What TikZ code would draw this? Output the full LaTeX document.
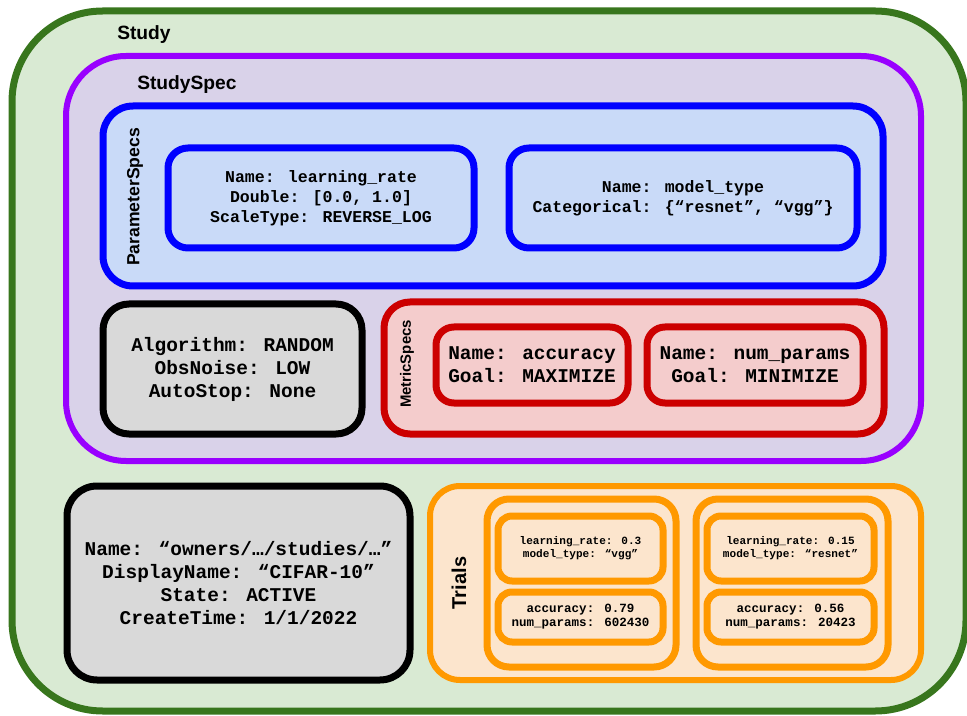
\documentclass[tikz,border=0pt]{standalone}
\usepackage{fontspec}
\setmainfont{Liberation Sans}
\newfontfamily\codefont{Liberation Mono}
\usetikzlibrary{positioning}

\definecolor{studyline}{HTML}{38761D}
\definecolor{studyfill}{HTML}{D9EAD3}
\definecolor{specline}{HTML}{9900FF}
\definecolor{specfill}{HTML}{D9D2E9}
\definecolor{paramline}{HTML}{0000FF}
\definecolor{paramfill}{HTML}{C9DAF8}
\definecolor{greyfill}{HTML}{D9D9D9}
\definecolor{metricline}{HTML}{CC0000}
\definecolor{metricfill}{HTML}{F4CCCC}
\definecolor{trialline}{HTML}{FF9900}
\definecolor{trialfill}{HTML}{FCE5CD}

\begin{document}
\begin{tikzpicture}[x=0.75pt, y=-0.75pt,
  box/.style={rectangle, draw, line width=5.25pt, inner sep=0pt, align=center},
  sz/.style 2 args={minimum width=#1*0.75pt, minimum height=#2*0.75pt},
  title/.style={font=\bfseries\fontsize{14.4}{17}\selectfont, inner sep=0pt},
  sidetitle/.style={font=\bfseries\fontsize{#1}{#1}\selectfont, rotate=90, inner sep=0pt},
  bigtext/.style={font=\codefont\bfseries\fontsize{14.6}{17.25}\selectfont},
  midtext/.style={font=\codefont\bfseries\fontsize{12.4}{15}\selectfont}
]
  \useasboundingbox (0,0) rectangle (967,716);

  % outer containers
  \node[box, sz={954}{700}, draw=studyline, fill=studyfill, rounded corners=68pt] (study) at (489,361) {};
  \node[title, anchor=west] (studylabel) at (117,35) {Study};
  \node[box, sz={855}{405}, line width=4.5pt, draw=specline, fill=specfill, rounded corners=45pt] (studyspec) at (493.5,258.5) {};
  \node[title, anchor=west] (speclabel) at (137,85) {StudySpec};

  % parameter specs
  \node[box, sz={780}{180}, draw=paramline, fill=paramfill, rounded corners=22.5pt] (params) at (493,196) {};
  \node[sidetitle=13.2] (paramlabel) at (135,197) {ParameterSpecs};
  \node[box, midtext, sz={306}{100}, draw=paramline, fill=paramfill, rounded corners=15pt] (lr) at (321,198)
    {Name: learning\_rate\\Double: [0.0, 1.0]\\ScaleType: REVERSE\_LOG};
  \node[box, midtext, sz={348}{100}, draw=paramline, fill=paramfill, rounded corners=15pt] (mt) at (683,198)
    {Name: model\_type\\Categorical: \{“resnet”, “vgg”\}};

  % algorithm settings
  \node[box, bigtext, sz={259}{130}, fill=greyfill, rounded corners=19.5pt] (algo) at (232.5,369)
    {Algorithm: RANDOM\\ObsNoise: LOW\\AutoStop: None};

  % metric specs
  \node[box, sz={500}{132}, draw=metricline, fill=metricfill, rounded corners=19.5pt] (metrics) at (634,368) {};
  \node[sidetitle=11.2] (metriclabel) at (407,364) {MetricSpecs};
  \node[box, bigtext, sz={192}{76}, draw=metricline, fill=metricfill, rounded corners=13.5pt] (acc) at (532,365)
    {Name: accuracy\\Goal: MAXIMIZE};
  \node[box, bigtext, sz={216}{76}, draw=metricline, fill=metricfill, rounded corners=13.5pt] (nparams) at (755,365)
    {Name: num\_params\\Goal: MINIMIZE};

  % study info
  \node[box, bigtext, sz={343}{194}, fill=greyfill, rounded corners=22.5pt] (info) at (238.5,583)
    {Name: “owners/…/studies/…”\\DisplayName: “CIFAR-10”\\State: ACTIVE\\CreateTime: 1/1/2022};

  % trials
  \node[box, sz={491}{194}, line width=4.5pt, draw=trialline, fill=trialfill, rounded corners=22.5pt] (trials) at (675.5,583) {};
  \node[sidetitle=15] (triallabel) at (459,583) {Trials};
  \node[box, sz={189}{168}, draw=trialline, fill=trialfill, rounded corners=16.5pt] (trialA) at (581.5,583) {};
  \node[box, sz={192}{168}, draw=trialline, fill=trialfill, rounded corners=16.5pt] (trialB) at (792,583) {};
  \node[box, sz={165}{65}, draw=trialline, fill=trialfill, rounded corners=10.5pt,
        font=\codefont\bfseries\fontsize{8.3}{9.75}\selectfont] (trialAp) at (580.5,548.5)
    {learning\_rate: 0.3\\model\_type: “vgg”};
  \node[box, sz={165}{50}, draw=trialline, fill=trialfill, rounded corners=10.5pt,
        font=\codefont\bfseries\fontsize{9.4}{10.5}\selectfont] (trialAm) at (580.5,617)
    {accuracy: 0.79\\num\_params: 602430};
  \node[box, sz={167}{65}, draw=trialline, fill=trialfill, rounded corners=10.5pt,
        font=\codefont\bfseries\fontsize{8.3}{9.75}\selectfont] (trialBp) at (790.5,548.5)
    {learning\_rate: 0.15\\model\_type: “resnet”};
  \node[box, sz={167}{50}, draw=trialline, fill=trialfill, rounded corners=10.5pt,
        font=\codefont\bfseries\fontsize{9.4}{10.5}\selectfont] (trialBm) at (790.5,617)
    {accuracy: 0.56\\num\_params: 20423};
\end{tikzpicture}
\end{document}
